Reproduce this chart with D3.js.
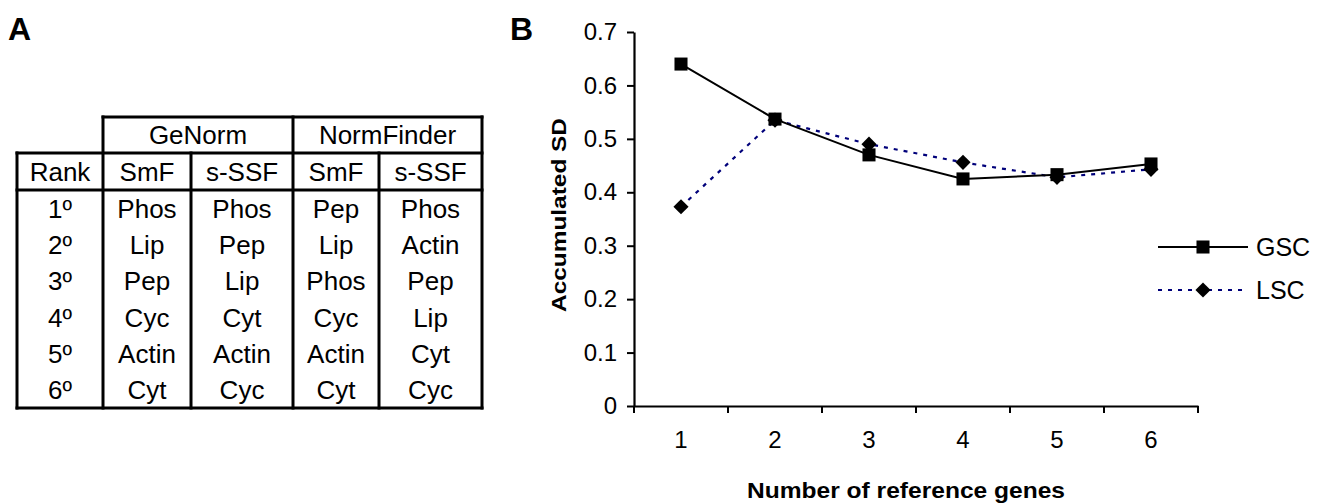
<!DOCTYPE html>
<html lang="en">
<head>
    <meta charset="UTF-8">
    <title>Reference genes - ranking and accumulated SD</title>
    <script src="https://d3js.org/d3.v7.min.js"></script>
    <style>
        body {
            margin: 0;
            background: #fff;
            font-family: Arial, "Liberation Sans", sans-serif;
        }
        svg text {
            font-family: Arial, "Liberation Sans", sans-serif;
        }
    </style>
</head>
<body>
    <svg id="fig" width="1318" height="503"></svg>

    <script>
        // --- table (panel A) ---
        const groups = ["GeNorm", "NormFinder"];
        const subCols = ["SmF", "s-SSF", "SmF", "s-SSF"];
        const ranks = ["1º", "2º", "3º", "4º", "5º", "6º"];
        const rankTable = [
            ["Phos", "Phos", "Pep", "Phos"],
            ["Lip", "Pep", "Lip", "Actin"],
            ["Pep", "Lip", "Phos", "Pep"],
            ["Cyc", "Cyt", "Cyc", "Lip"],
            ["Actin", "Actin", "Actin", "Cyt"],
            ["Cyt", "Cyc", "Cyt", "Cyc"]
        ];

        // --- line chart (panel B) ---
        const nGenes = ["1", "2", "3", "4", "5", "6"];
        const gsc = [0.640, 0.537, 0.470, 0.425, 0.433, 0.453];
        const lsc = [0.373, 0.535, 0.490, 0.456, 0.428, 0.443];
        const yTicks = [0, 0.1, 0.2, 0.3, 0.4, 0.5, 0.6, 0.7];

        const svg = d3.select("#fig");

        // panel letters
        svg.append("text").attr("x", 8).attr("y", 40)
            .style("font-size", "32px").style("font-weight", "bold").text("A");
        svg.append("text").attr("x", 510).attr("y", 40)
            .style("font-size", "32px").style("font-weight", "bold").text("B");

        // ===== table =====
        const colEdges = [17, 103, 191, 293, 379, 482];
        const tA = svg.append("g");
        const rowY = d3.scaleBand().domain(ranks).range([190, 408]);
        const lw = 3;
        const line = (x1, y1, x2, y2) => tA.append("line")
            .attr("x1", x1).attr("y1", y1).attr("x2", x2).attr("y2", y2)
            .attr("stroke", "#000").attr("stroke-width", lw).attr("stroke-linecap", "square");

        line(colEdges[1], 117, colEdges[5], 117);
        line(colEdges[0], 153, colEdges[5], 153);
        line(colEdges[0], 190, colEdges[5], 190);
        line(colEdges[0], 408, colEdges[5], 408);
        line(colEdges[0], 153, colEdges[0], 408);
        [1, 3, 5].forEach(i => line(colEdges[i], 117, colEdges[i], 408));
        [2, 4].forEach(i => line(colEdges[i], 153, colEdges[i], 408));

        const cellFont = "26px";
        groups.forEach((g, i) => {
            tA.append("text")
                .attr("x", (colEdges[1 + 2 * i] + colEdges[3 + 2 * i]) / 2)
                .attr("y", 135).attr("dy", "0.36em")
                .attr("text-anchor", "middle").style("font-size", cellFont).text(g);
        });
        const headRow = ["Rank"].concat(subCols);
        headRow.forEach((h, i) => {
            tA.append("text")
                .attr("x", (colEdges[i] + colEdges[i + 1]) / 2)
                .attr("y", 171.5).attr("dy", "0.36em")
                .attr("text-anchor", "middle").style("font-size", cellFont).text(h);
        });
        ranks.forEach((r, ri) => {
            const cy = rowY(r) + rowY.bandwidth() / 2;
            [r].concat(rankTable[ri]).forEach((v, ci) => {
                tA.append("text")
                    .attr("x", (colEdges[ci] + colEdges[ci + 1]) / 2)
                    .attr("y", cy).attr("dy", "0.36em")
                    .attr("text-anchor", "middle").style("font-size", cellFont).text(v);
            });
        });

        // ===== chart =====
        const x = d3.scaleBand().domain(nGenes).range([634, 1198]);
        const y = d3.scaleLinear().domain([0, 0.7]).range([406, 32]);
        const cx = d => x(d) + x.bandwidth() / 2;

        const yAxis = svg.append("g")
            .attr("transform", "translate(634,0)")
            .call(d3.axisLeft(y).tickValues(yTicks).tickSize(7).tickSizeOuter(0)
                .tickFormat(d => d === 0 ? "0" : d3.format(".1f")(d)));
        yAxis.selectAll("text").style("font-size", "24px").attr("x", -17);

        const xAxis = svg.append("g")
            .attr("transform", "translate(0,406)")
            .call(d3.axisBottom(x).tickSize(0).tickSizeOuter(0).tickPadding(25));
        xAxis.selectAll("text").style("font-size", "24px").attr("dy", "0.71em");
        // x ticks sit on the band edges
        const edges = nGenes.map(d => x(d)).concat([x.range()[1]]);
        xAxis.selectAll(".edge").data(edges).enter().append("line")
            .attr("class", "edge")
            .attr("x1", d => d).attr("x2", d => d)
            .attr("y1", 0).attr("y2", 7)
            .attr("stroke", "#000").attr("stroke-width", 2);

        [yAxis, xAxis].forEach(a => {
            a.selectAll("path.domain").attr("stroke-width", 2.2);
            a.selectAll(".tick line").attr("stroke-width", 2);
            a.selectAll("text").attr("fill", "#000");
        });

        // axis titles
        svg.append("text")
            .attr("transform", "translate(566,215) rotate(-90)")
            .attr("text-anchor", "middle")
            .attr("textLength", 194).attr("lengthAdjust", "spacingAndGlyphs")
            .style("font-size", "21px").style("font-weight", "bold")
            .text("Accumulated SD");
        svg.append("text")
            .attr("x", 906).attr("y", 498)
            .attr("text-anchor", "middle")
            .attr("textLength", 318).attr("lengthAdjust", "spacingAndGlyphs")
            .style("font-size", "22px").style("font-weight", "bold")
            .text("Number of reference  genes");

        const pathGen = d3.line().x((d, i) => cx(nGenes[i])).y(d => y(d));

        svg.append("path").datum(lsc)
            .attr("d", pathGen).attr("fill", "none")
            .attr("stroke", "#00007a").attr("stroke-width", 2.2)
            .attr("stroke-dasharray", "4,6");
        svg.append("path").datum(gsc)
            .attr("d", pathGen).attr("fill", "none")
            .attr("stroke", "#000").attr("stroke-width", 2);

        const square = d3.symbol().type(d3.symbolSquare).size(170);
        const diamondSq = d3.symbol().type(d3.symbolSquare).size(115);

        svg.selectAll(".gsc").data(gsc).enter().append("path")
            .attr("class", "gsc")
            .attr("transform", (d, i) => `translate(${cx(nGenes[i])},${y(d)})`)
            .attr("d", square).attr("fill", "#000");
        svg.selectAll(".lsc").data(lsc).enter().append("path")
            .attr("class", "lsc")
            .attr("transform", (d, i) => `translate(${cx(nGenes[i])},${y(d)}) rotate(45)`)
            .attr("d", diamondSq).attr("fill", "#000");

        // legend
        const legendItems = [
            { name: "GSC", color: "#000", dash: null, sym: square, rot: 0, yPos: 247 },
            { name: "LSC", color: "#00007a", dash: "4,6", sym: diamondSq, rot: 45, yPos: 290 }
        ];
        legendItems.forEach(it => {
            const g = svg.append("g").attr("transform", `translate(0,${it.yPos})`);
            g.append("line")
                .attr("x1", 1158).attr("x2", 1248).attr("y1", 0).attr("y2", 0)
                .attr("stroke", it.color).attr("stroke-width", 2)
                .attr("stroke-dasharray", it.dash);
            g.append("path").attr("transform", `translate(1203,0) rotate(${it.rot})`)
                .attr("d", it.sym).attr("fill", "#000");
            g.append("text").attr("x", 1256).attr("y", 0).attr("dy", "0.36em")
                .style("font-size", "25px").text(it.name);
        });
    </script>
</body>
</html>
